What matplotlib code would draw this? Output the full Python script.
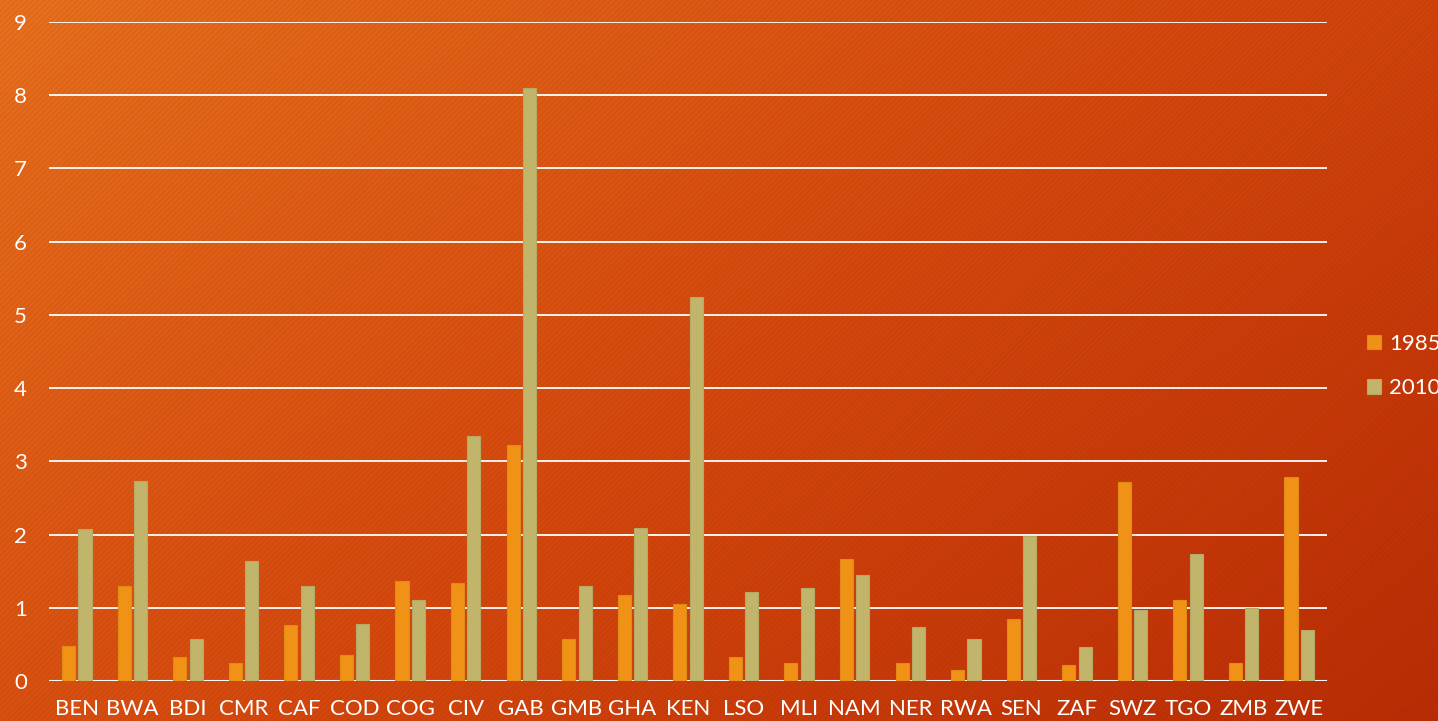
import numpy as np
import matplotlib.pyplot as plt
from matplotlib.colors import LinearSegmentedColormap
from matplotlib.patches import Rectangle

countries = ['BEN', 'BWA', 'BDI', 'CMR', 'CAF', 'COD', 'COG', 'CIV', 'GAB', 'GMB', 'GHA', 'KEN',
             'LSO', 'MLI', 'NAM', 'NER', 'RWA', 'SEN', 'ZAF', 'SWZ', 'TGO', 'ZMB', 'ZWE']
v1985 = [0.48, 1.30, 0.33, 0.24, 0.77, 0.36, 1.37, 1.34, 3.22, 0.57, 1.18, 1.05,
         0.33, 0.24, 1.66, 0.25, 0.15, 0.85, 0.22, 2.72, 1.10, 0.24, 2.79]
v2010 = [2.07, 2.73, 0.58, 1.64, 1.30, 0.78, 1.10, 3.35, 8.10, 1.30, 2.09, 5.25,
         1.21, 1.27, 1.45, 0.74, 0.57, 1.98, 0.46, 0.97, 1.74, 1.00, 0.70]
yticks = list(range(0, 10))

font = 'Lato'
c1985 = '#EF9215'
c2010 = '#C1B46B'

fig = plt.figure(figsize=(14.38, 7.21), dpi=100)

# gradient background
bg = fig.add_axes([0, 0, 1, 1], zorder=-10)
xx, yy = np.meshgrid(np.linspace(0, 1, 300), np.linspace(0, 1, 150))
grad = (xx * 0.6 + yy * 0.4)
cmap = LinearSegmentedColormap.from_list('bg', ['#E8711E', '#D5490E', '#BA2C05'])
bg.imshow(grad, cmap=cmap, aspect='auto', extent=[0, 1, 0, 1], origin='upper')
plt.rcParams['hatch.linewidth'] = 1.2
bg.add_patch(Rectangle((0, 0), 1, 1, facecolor='none', edgecolor=(0.55, 0.15, 0.0, 0.10),
                       hatch='//////', linewidth=0))
bg.set_xlim(0, 1)
bg.set_ylim(0, 1)
bg.axis('off')

ax = fig.add_axes([49 / 1438, 1 - 681 / 721, (1327 - 49) / 1438, (681 - 22) / 721])
ax.patch.set_alpha(0)

x = np.arange(len(countries))
w = 0.235
ax.bar(x - w / 2 - 0.03, v1985, width=w, color=c1985, edgecolor='#E08A18', linewidth=0.8,
       label='1985', zorder=3)
ax.bar(x + w / 2 + 0.03, v2010, width=w, color=c2010, edgecolor='#B8A865', linewidth=0.8,
       label='2010', zorder=3)

ax.set_xlim(-0.5, len(countries) - 0.5)
ax.set_ylim(0, 9)
ax.set_yticks(yticks)
ax.yaxis.grid(True, color='white', linewidth=1.3)
ax.set_axisbelow(True)
for s in ax.spines.values():
    s.set_visible(False)
ax.axhline(0, color='white', linewidth=1.5, zorder=2)

ax.set_xticks(x)
ax.set_xticklabels(countries)
ax.tick_params(axis='both', length=0, colors='white', labelsize=16)
ax.tick_params(axis='y', pad=16)
ax.tick_params(axis='x', pad=13)
for lab in ax.get_xticklabels() + ax.get_yticklabels():
    lab.set_fontfamily(font)
    lab.set_color('white')

leg = ax.legend(loc='center left', bbox_to_anchor=(1.031, 0.478), frameon=False,
                prop={'family': font, 'size': 16}, handlelength=0.65, handleheight=0.65,
                handletextpad=0.35, labelspacing=1.1, labelcolor='white',
                borderpad=0, borderaxespad=0)

fig.savefig('out.png', dpi=100)
